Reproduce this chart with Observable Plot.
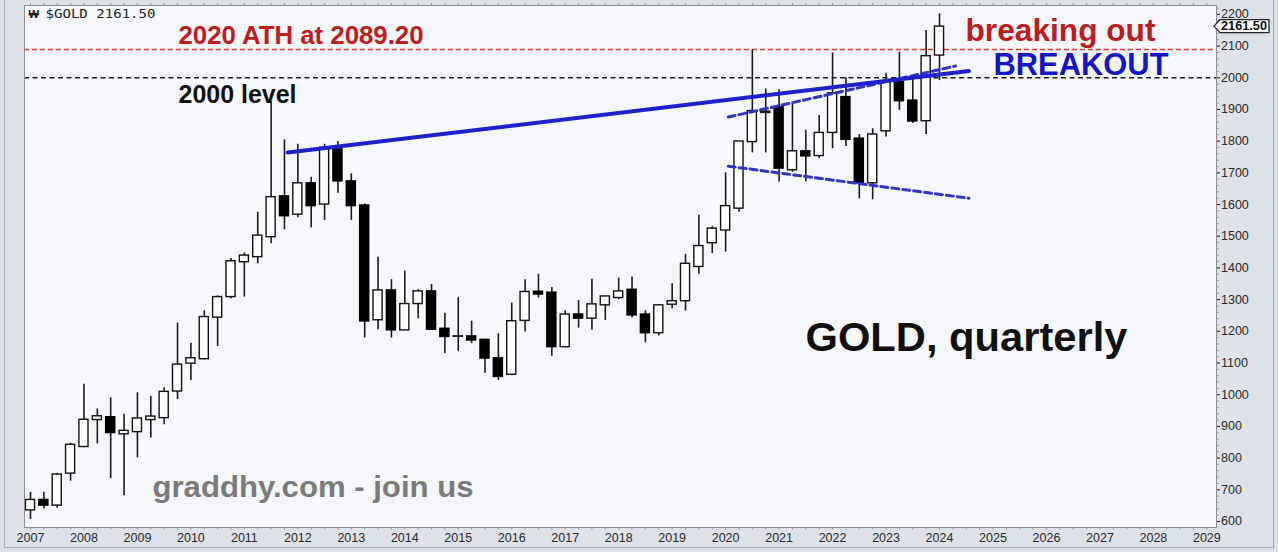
<!DOCTYPE html>
<html><head><meta charset="utf-8">
<script src="https://cdn.jsdelivr.net/npm/d3@7"></script>
<script src="https://cdn.jsdelivr.net/npm/@observablehq/plot@0.6"></script>
<style>
html,body{margin:0;padding:0;background:#dee1e8;}
#chart{width:1278px;height:552px;position:relative;overflow:hidden;}
</style></head><body><div id="chart"></div>
<script>
// ---- data (quarterly candles) ----
const quarters = [];
for (let y = 2007; y <= 2024; y++) for (let q = 1; q <= 4; q++) quarters.push(y + " Q" + q);
quarters.length = 69; // 2007 Q1 .. 2024 Q1

const open = [635,668,650,751,835,920,929,875,882,920,926,1010,1098,1112,1243,1308,1418,1434,1497,1626,
  1568,1667,1600,1774,1673,1597,1235,1329,1203,1286,1326,1208,1184,1184,1173,1115,1063,1233,1325,1322,
  1150,1253,1240,1282,1305,1331,1253,1194,1284,1295,1403,1478,1518,1587,1797,1889,1907,1708,1768,1753,
  1826,1939,1808,1667,1831,1986,1928,1863,2070];
const high = [692,692,752,847,1033,955,990,938,1006,994,1022,1226,1162,1265,1312,1430,1447,1576,1925,1804,
  1790,1686,1790,1799,1697,1602,1434,1363,1390,1331,1348,1257,1306,1232,1175,1192,1289,1363,1380,1338,
  1265,1297,1364,1310,1368,1371,1265,1283,1350,1443,1566,1530,1700,1799,2088,1965,1962,1916,1834,1881,
  2078,2000,1821,1839,2014,2081,1995,2149,2202];
const low = [606,640,642,727,833,845,735,681,801,863,905,985,1045,1110,1152,1303,1308,1413,1476,1520,
  1558,1526,1550,1636,1550,1179,1205,1179,1203,1240,1203,1129,1137,1161,1068,1045,1060,1198,1305,1121,
  1148,1210,1203,1234,1300,1242,1164,1185,1271,1264,1380,1445,1450,1576,1763,1763,1671,1702,1671,1745,
  1776,1783,1618,1615,1813,1897,1856,1821,1991];
const close = [668,650,748,842,921,932,879,886,925,931,1009,1095,1115,1245,1308,1421,1439,1502,1623,1563,
  1667,1595,1779,1673,1595,1231,1329,1203,1286,1326,1205,1182,1183,1171,1114,1056,1232,1324,1316,1150,
  1253,1240,1285,1310,1326,1250,1194,1282,1295,1413,1469,1524,1595,1799,1895,1893,1713,1768,1752,1826,
  1951,1804,1667,1821,1986,1926,1862,2068,2161.5];

const yearTicks = d3.range(2007, 2030);           // x tick labels
const priceTicks = d3.range(600, 2201, 100);      // y tick labels
const athLevel = 2089.2;
const roundLevel = 2000;
// trend lines: [time, price]
const resistanceX = [2011.81, 2024.55], resistanceY = [1764, 2021];
const upperX = [2020.05, 2024.30], upperY = [1876, 2037];
const lowerX = [2020.05, 2024.55], lowerY = [1721, 1620];

// ---- build table ----
const candles = quarters.map((q, i) => ({
  q, t: +q.slice(0, 4) + (+q.slice(6) - 1) / 4,
  open: open[i], high: high[i], low: low[i], close: close[i]
}));
const up = candles.filter(d => d.close >= d.open);
const down = candles.filter(d => d.close < d.open);
const pts = (xs, ys) => xs.map((x, i) => ({x, y: ys[i]}));
const halfBody = 0.085;

const sans = "'Liberation Sans', Arial, sans-serif";
const note = (text, o) => Plot.text([text], {text: d => d, frameAnchor: "top-left", textAnchor: "start",
  lineAnchor: "bottom", fontFamily: sans, fontWeight: "bold", ...o});

const plot = Plot.plot({
  width: 1278, height: 552,
  marginLeft: 24, marginRight: 62, marginTop: 5, marginBottom: 25,
  style: {background: "transparent", fontFamily: sans, color: "#2a2a2a", overflow: "visible"},
  x: {type: "linear", domain: [2006.888, 2029.18]},
  y: {type: "linear", domain: [581, 2228]},
  marks: [
    Plot.frame({fill: "#f6f7fb", stroke: "none"}),
    Plot.ruleY([athLevel], {stroke: "#d23a3a", strokeWidth: 1.3, strokeDasharray: "5,3"}),
    Plot.ruleY([roundLevel], {stroke: "#1a1a1a", strokeWidth: 1.3, strokeDasharray: "5,3.5"}),
    Plot.ruleX(candles, {x: "t", y1: "low", y2: "high", stroke: "#1a1a1a", strokeWidth: 1.6}),
    Plot.rect(up, {x1: d => d.t - halfBody, x2: d => d.t + halfBody, y1: "open", y2: "close",
      fill: "#ffffff", stroke: "#111", strokeWidth: 1.4}),
    Plot.rect(down, {x1: d => d.t - halfBody, x2: d => d.t + halfBody, y1: "open", y2: "close",
      fill: "#000000", stroke: "#000", strokeWidth: 1.4}),
    Plot.line(pts(upperX, upperY), {x: "x", y: "y", stroke: "#3434c2", strokeWidth: 3, strokeDasharray: "7,4"}),
    Plot.line(pts(lowerX, lowerY), {x: "x", y: "y", stroke: "#3434c2", strokeWidth: 3, strokeDasharray: "7,4"}),
    Plot.line(pts(resistanceX, resistanceY), {x: "x", y: "y", stroke: "#2020cc", strokeWidth: 4}),
    note("$GOLD 2161.50", {fontFamily: "'DejaVu Sans Mono', monospace", fontWeight: "normal", fontSize: 12, fill: "#222", dx: 21, dy: 12.5}),
    note("₩", {fontSize: 11, fill: "#222", dx: 4, dy: 12.5}),
    note("2020 ATH at 2089.20", {fontSize: 25, fill: "#c11a20", dx: 154, dy: 38}),
    note("2000 level", {fontSize: 25, fill: "#111", dx: 154, dy: 97}),
    note("breaking out", {fontSize: 31, fill: "#c11a20", dx: 941, dy: 35}),
    note("BREAKOUT", {fontSize: 32, fill: "#1414c8", dx: 969, dy: 69}),
    note("GOLD, quarterly", {fontSize: 40, fill: "#111", dx: 781, dy: 345}),
    note("graddhy.com - join us", {fontSize: 29, fill: "#7a7a7a", dx: 128, dy: 491}),
    Plot.frame({stroke: "#8f8f8f"}),
    Plot.axisX({anchor: "bottom", ticks: yearTicks, tickFormat: d => String(d), tickSize: 0, tickPadding: 6, fontSize: 12.5, label: null}),
    Plot.axisX({anchor: "bottom", ticks: d3.range(2007, 2029.1, 0.25), tickFormat: () => "", tickSize: 2.5, stroke: "#999", label: null}),
    Plot.axisX({anchor: "top", ticks: d3.range(2007, 2029.1, 0.25), tickFormat: () => "", tickSize: 3, stroke: "#999", label: null}),
    Plot.axisY({anchor: "right", ticks: d3.range(600, 2221, 20), tickFormat: () => "", tickSize: 2, stroke: "#999", label: null}),
    Plot.axisY({anchor: "right", ticks: priceTicks, tickFormat: d => String(d), tickSize: 3, tickPadding: 1.5, fontSize: 12.5, label: null})
  ]
});
document.getElementById("chart").appendChild(plot);

// squeeze annotation texts to the reference widths
const widths = {"$GOLD 2161.50": 110, "2020 ATH at 2089.20": 245, "2000 level": 118, "breaking out": 190,
  "BREAKOUT": 175, "GOLD, quarterly": 322, "graddhy.com - join us": 321};
d3.select(plot).selectAll("text").each(function () {
  const w = widths[this.textContent];
  if (w) { this.setAttribute("textLength", w); this.setAttribute("lengthAdjust", "spacingAndGlyphs"); }
});

// last-price flag on the right axis
const svg = d3.select(plot);
const yLast = plot.scale("y").apply(close[close.length - 1]);
const xr = 1278 - 62;
const g = svg.append("g");
g.append("path")
  .attr("d", `M${xr - 2},${yLast} L${xr + 4},${yLast - 6.5} L${xr + 53},${yLast - 6.5} L${xr + 53},${yLast + 6.5} L${xr + 4},${yLast + 6.5} Z`)
  .attr("fill", "#ffffff").attr("stroke", "#222").attr("stroke-width", 1.3);
g.append("text").attr("x", xr + 5).attr("y", yLast).attr("dy", "0.36em")
  .attr("text-anchor", "start")
  .attr("font-size", 12).attr("font-weight", "bold").attr("fill", "#111")
  .attr("font-family", sans).attr("textLength", 46).attr("lengthAdjust", "spacingAndGlyphs").text("2161.50");
// outer border
svg.append("rect").attr("x", 4.5).attr("y", -2).attr("width", 1269).attr("height", 549.5)
  .attr("fill", "none").attr("stroke", "#a8abb2");
</script></body></html>
